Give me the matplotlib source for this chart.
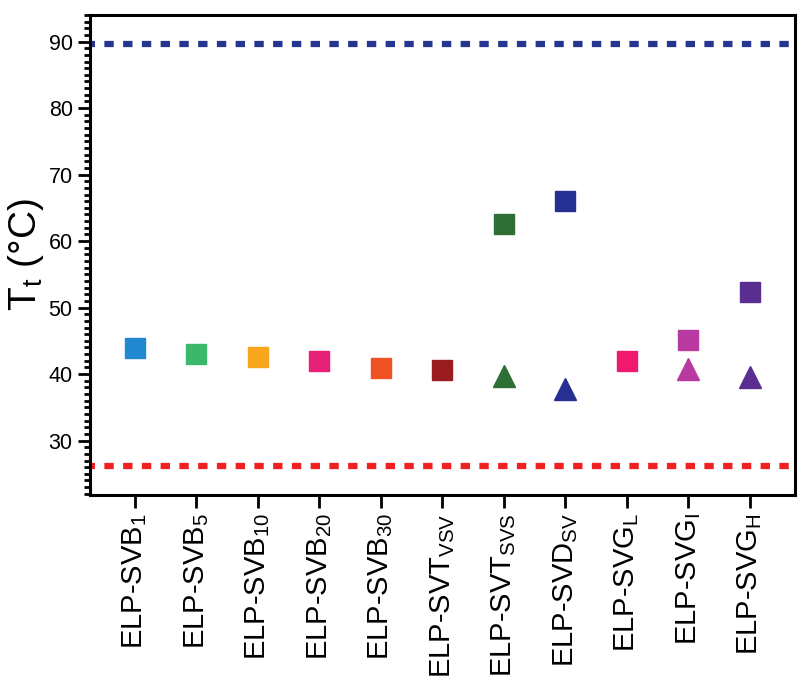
import matplotlib
matplotlib.use("Agg")
import matplotlib.pyplot as plt
from matplotlib.ticker import MultipleLocator

plt.rcParams['font.family'] = ['Liberation Sans', 'DejaVu Sans']
plt.rcParams['mathtext.fontset'] = 'custom'
plt.rcParams['mathtext.rm'] = 'Liberation Sans'
plt.rcParams['mathtext.it'] = 'Liberation Sans'
plt.rcParams['mathtext.default'] = 'regular'

categories = ["ELP-SVB$_1$", "ELP-SVB$_5$", "ELP-SVB$_{10}$", "ELP-SVB$_{20}$",
              "ELP-SVB$_{30}$", "ELP-SVT$_{VSV}$", "ELP-SVT$_{SVS}$", "ELP-SVD$_{SV}$",
              "ELP-SVG$_L$", "ELP-SVG$_I$", "ELP-SVG$_H$"]
square_values = [43.9, 43.0, 42.5, 42.0, 40.9, 40.6, 62.6, 66.1, 41.9, 45.1, 52.4]
square_colors = ["#1f88d0", "#3cb86a", "#f8a51c", "#e81f76", "#ef5323", "#9a1c1f",
                 "#2f6e35", "#263092", "#ef1a6f", "#b83aa0", "#5a2e91"]
triangle_index = [6, 7, 9, 10]
triangle_values = [39.7, 37.8, 40.7, 39.6]
upper_line = 89.65
lower_line = 26.1

fig = plt.figure(figsize=(8, 6.81), dpi=100)
ax = fig.add_axes([0.1125, 0.273, 0.881, 0.705])

ax.axhline(upper_line, color="#26358f", lw=4.5, linestyle=(0.7, (1.5, 1.5)), zorder=1)
ax.axhline(lower_line, color="#f02020", lw=4.5, linestyle=(0.7, (1.5, 1.5)), zorder=1)

for i, (v, c) in enumerate(zip(square_values, square_colors)):
    ax.plot(i, v, marker='s', markersize=15, color=c, linestyle='none', zorder=3)
for i, v in zip(triangle_index, triangle_values):
    ax.plot(i, v, marker='^', markersize=16, color=square_colors[i], linestyle='none', zorder=3)

ax.set_xlim(-0.73, 10.73)
ax.set_ylim(21.8, 94)
ax.set_xticks(range(len(categories)))
ax.set_xticklabels(categories, rotation=90, fontsize=21)
ax.yaxis.set_major_locator(MultipleLocator(10))
ax.yaxis.set_minor_locator(MultipleLocator(1))
ax.set_yticks(range(30, 91, 10))
ax.tick_params(axis='y', which='major', labelsize=15.5, length=9, width=2)
ax.tick_params(axis='y', which='minor', length=4.5, width=2)
ax.tick_params(axis='x', which='major', length=9, width=2, pad=4)
for s in ax.spines.values():
    s.set_linewidth(2.2)
ax.set_ylabel("T$_t$ (°C)", fontsize=28, labelpad=2)

fig.savefig("out.png", dpi=100)
